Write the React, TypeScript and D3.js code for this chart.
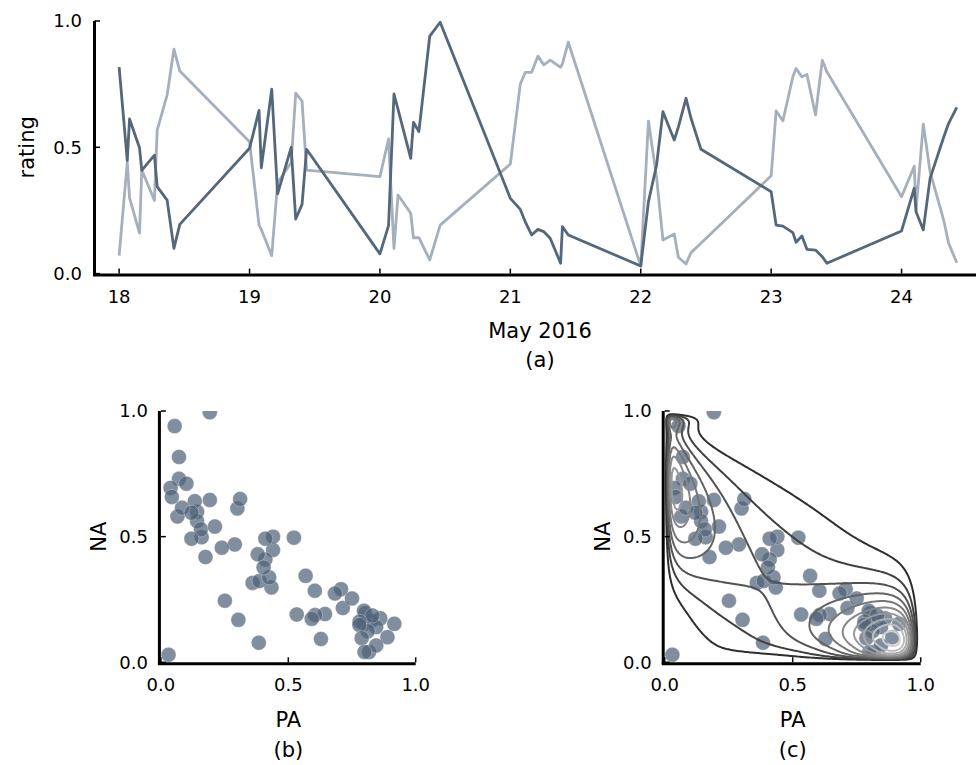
import React from 'react';
import * as d3 from 'd3';

// ---- data ----
const times = [
  "05-18 00:00","05-18 01:30","05-18 01:55","05-18 03:45","05-18 04:10","05-18 06:30","05-18 07:00","05-18 08:50","05-18 10:05","05-18 11:10",
  "05-19 00:00","05-19 01:45","05-19 02:10","05-19 04:05","05-19 05:10","05-19 07:40","05-19 08:30","05-19 09:40","05-19 10:30",
  "05-20 00:00","05-20 01:35","05-20 02:35","05-20 03:20","05-20 05:40","05-20 06:10","05-20 07:10","05-20 09:10","05-20 11:05",
  "05-21 00:00","05-21 01:50","05-21 02:45","05-21 03:55","05-21 05:05","05-21 06:10","05-21 07:20","05-21 09:15","05-21 09:35","05-21 10:40",
  "05-22 00:00","05-22 01:25","05-22 02:55","05-22 04:05","05-22 06:10","05-22 06:55","05-22 08:20","05-22 09:15","05-22 11:05",
  "05-23 00:00","05-23 00:55","05-23 02:10","05-23 04:00","05-23 04:35","05-23 05:40","05-23 06:35","05-23 08:10","05-23 09:25","05-23 10:15",
  "05-24 00:00","05-24 02:20","05-24 02:40","05-24 04:00","05-24 05:15","05-24 07:45","05-24 08:40","05-24 10:10"
];
// negative affect (dark line)
const NA = [
  0.817,0.447,0.612,0.498,0.409,0.469,0.344,0.291,0.100,0.195,
  0.496,0.646,0.419,0.730,0.316,0.500,0.216,0.274,0.492,
  0.078,0.190,0.711,0.650,0.456,0.599,0.562,0.940,0.995,
  0.298,0.254,0.205,0.153,0.175,0.166,0.140,0.041,0.186,0.153,
  0.030,0.285,0.430,0.641,0.529,0.580,0.694,0.615,0.492,
  0.324,0.192,0.188,0.162,0.124,0.149,0.096,0.093,0.067,0.041,
  0.169,0.338,0.245,0.173,0.377,0.540,0.595,0.658
];
// positive affect (light line)
const PA = [
  0.071,0.440,0.300,0.160,0.410,0.290,0.568,0.707,0.889,0.802,
  0.522,0.192,0.175,0.071,0.360,0.440,0.714,0.683,0.410,
  0.384,0.533,0.100,0.311,0.239,0.142,0.142,0.054,0.192,
  0.434,0.750,0.797,0.797,0.861,0.826,0.845,0.817,0.830,0.916,
  0.030,0.604,0.380,0.133,0.157,0.065,0.038,0.083,0.120,
  0.387,0.644,0.605,0.780,0.812,0.779,0.788,0.628,0.845,0.799,
  0.304,0.425,0.251,0.592,0.403,0.212,0.120,0.043
];
const ratingTicks = [0, 0.5, 1.0];
const dayTicks = ["2016-05-18","2016-05-19","2016-05-20","2016-05-21","2016-05-22","2016-05-23","2016-05-24"];
const unitTicks = [0, 0.5, 1.0];
const timeDomain = ["2016-05-17 19:28", "2016-05-24 14:24"];

const FONT = "DejaVu Sans, sans-serif";
const DARK = "#55677a";
const LIGHT = "#a5b0bc";
const DOT = "#4f6278";

const parseT = d3.timeParse("%Y-%m-%d %H:%M");
const parseD = d3.timeParse("%Y-%m-%d");
const dates = times.map(t => parseT("2016-" + t) as Date);

// logit-transformed Gaussian KDE, back-transformed density on the unit square
function kdeLevels(px: number[], py: number[], n: number, factor: number) {
  const lg = (v: number) => Math.log(v / (1 - v));
  const keep = px.map((p, i) => p > 0.035 && p < 0.985 && py[i] > 0.035 && py[i] < 0.985);
  const lx = px.filter((_, i) => keep[i]).map(lg);
  const ly = py.filter((_, i) => keep[i]).map(lg);
  const sx = d3.deviation(lx)! * factor, sy = d3.deviation(ly)! * factor;
  const values = new Float64Array(n * n);
  for (let j = 0; j < n; j++) {
    const y = (j + 0.5) / n, gy = lg(y);
    for (let i = 0; i < n; i++) {
      const x = (i + 0.5) / n, gx = lg(x);
      let s = 0;
      for (let k = 0; k < lx.length; k++) {
        const dx = (gx - lx[k]) / sx, dy = (gy - ly[k]) / sy;
        s += Math.exp(-0.5 * (dx * dx + dy * dy));
      }
      values[j * n + i] = s / (x * (1 - x) * y * (1 - y));
    }
  }
  const max = d3.max(values)!;
  const th = d3.ticks(0, max, 10).filter(t => t > 0 && t < max);
  return { values: Array.from(values), th };
}

export default function App() {
  // ---- top panel ----
  const xT = d3.scaleTime().domain(timeDomain.map(s => parseT(s) as Date)).range([94.5, 979.8]);
  const yT = d3.scaleLinear().domain([0, 1]).range([273.6, 21]);
  const lineTop = d3.line<number>().x((_, i) => xT(dates[i])).y(v => yT(v));

  // ---- scatter panels ----
  const yS = d3.scaleLinear().domain([0, 1]).range([662.3, 411]);
  const xB = d3.scaleLinear().domain([0, 1]).range([160.9, 415.7]);
  const xC = d3.scaleLinear().domain([0, 1]).range([664.7, 920.7]);

  const n = 160;
  const col = d3.interpolateRgb("#2e2e2e", "#cfcfcf");
  const makeContours = (xs: d3.ScaleLinear<number, number>, factor: number) => {
    const kde = kdeLevels(PA, NA, n, factor);
    const cs = d3.contours().size([n, n]).thresholds(kde.th)(kde.values);
    const proj = d3.geoTransform({
      point(this: any, x: number, y: number) { this.stream.point(xs(x / n), yS(y / n)); }
    });
    const gpath = d3.geoPath(proj);
    return (
      <g>
        {cs.map((c, i) => (
          <path key={i} d={gpath(c as any) || ""} fill="none" stroke={col(kde.th.length > 1 ? i / (kde.th.length - 1) : 0)} strokeWidth={2} />
        ))}
      </g>
    );
  };

  const scatterPanel = (xs: d3.ScaleLinear<number, number>, id: string, tag: string, extra?: React.ReactNode) => {
    const r0 = xs.range();
    const cx = (r0[0] + r0[1]) / 2;
    return (
      <g>
        <clipPath id={id}><rect x={r0[0]} y={411} width={r0[1] - r0[0]} height={662.3 - 411} /></clipPath>
        <g clipPath={`url(#${id})`}>
          {PA.map((p, i) => (
            <circle key={i} cx={xs(p)} cy={yS(NA[i])} r={7.5} fill={DOT} fillOpacity={0.72} stroke="#ffffff" strokeOpacity={0.5} strokeWidth={0.6} />
          ))}
          {extra}
        </g>
        <line x1={r0[0] - 1.5} x2={r0[0] - 1.5} y1={yS(1)} y2={yS(0) + 1.5} stroke="#000" strokeWidth={3} />
        <line x1={r0[0] - 3} x2={r0[1]} y1={yS(0) + 1.5} y2={yS(0) + 1.5} stroke="#000" strokeWidth={3} />
        {unitTicks.map(t => (
          <g key={"x" + t}>
            <line x1={xs(t)} x2={xs(t)} y1={yS(0)} y2={yS(0) - 5} stroke="#000" strokeWidth={1.5} />
            <text x={xs(t)} y={691} textAnchor="middle" fontSize={18} fontFamily={FONT}>{d3.format(".1f")(t)}</text>
          </g>
        ))}
        {unitTicks.map(t => (
          <g key={"y" + t}>
            <line x1={r0[0]} x2={r0[0] + 5} y1={yS(t)} y2={yS(t)} stroke="#000" strokeWidth={1.5} />
            <text x={r0[0] - 13} y={yS(t)} dy="0.36em" textAnchor="end" fontSize={18} fontFamily={FONT}>{d3.format(".1f")(t)}</text>
          </g>
        ))}
        <text x={cx} y={727} textAnchor="middle" fontSize={21} fontFamily={FONT}>PA</text>
        <text x={cx} y={757} textAnchor="middle" fontSize={21} fontFamily={FONT}>{tag}</text>
        <text transform={`translate(${r0[0] - 62},${yS(0.5)}) rotate(-90)`} textAnchor="middle" dy="0.36em" fontSize={21} fontFamily={FONT}>NA</text>
      </g>
    );
  };

  return (
    <svg width={976} height={765} style={{ position: 'absolute', left: 0, top: 0, background: '#fff' }}>
      <rect width={976} height={765} fill="#fff" />
      {/* top panel */}
      <path d={lineTop(PA) || ""} fill="none" stroke={LIGHT} strokeWidth={2.8} strokeLinejoin="round" />
      <path d={lineTop(NA) || ""} fill="none" stroke={DARK} strokeWidth={2.8} strokeLinejoin="round" />
      <line x1={94.5} x2={94.5} y1={yT(1)} y2={yT(0) + 1.5} stroke="#000" strokeWidth={3} />
      <line x1={93} x2={980} y1={yT(0) + 1.5} y2={yT(0) + 1.5} stroke="#000" strokeWidth={3} />
      {ratingTicks.map(t => (
        <g key={"ry" + t}>
          <line x1={94.5} x2={100} y1={yT(t)} y2={yT(t)} stroke="#000" strokeWidth={1.5} />
          <text x={82} y={yT(t)} dy="0.36em" textAnchor="end" fontSize={18} fontFamily={FONT}>{d3.format(".1f")(t)}</text>
        </g>
      ))}
      {dayTicks.map(s => {
        const d = parseD(s) as Date;
        return (
          <g key={s}>
            <line x1={xT(d)} x2={xT(d)} y1={yT(0)} y2={yT(0) - 5} stroke="#000" strokeWidth={1.5} />
            <text x={xT(d)} y={303} textAnchor="middle" fontSize={18} fontFamily={FONT}>{d3.timeFormat("%d")(d)}</text>
          </g>
        );
      })}
      <text x={540} y={338} textAnchor="middle" fontSize={21} fontFamily={FONT}>May 2016</text>
      <text x={540} y={367} textAnchor="middle" fontSize={21} fontFamily={FONT}>(a)</text>
      <text transform={`translate(26,${yT(0.5)}) rotate(-90)`} textAnchor="middle" dy="0.36em" fontSize={21} fontFamily={FONT}>rating</text>

      {scatterPanel(xB, "clipB", "(b)")}
      {scatterPanel(xC, "clipC", "(c)", makeContours(xC, 0.55))}
    </svg>
  );
}
